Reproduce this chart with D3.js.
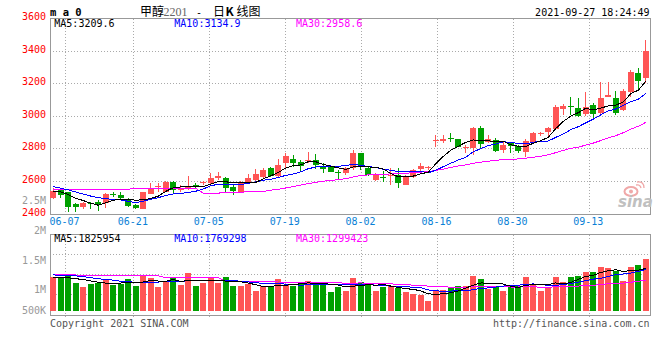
<!DOCTYPE html>
<html><head><meta charset="utf-8">
<script src="https://cdn.jsdelivr.net/npm/d3@7"></script>
<style>body{margin:0;background:#fff}svg{display:block}</style>
</head><body>
<svg id="c" width="660" height="360"></svg>
<script>
// ---------------- data ----------------
const dates = ["06-03","06-04","06-07","06-08","06-09","06-10","06-11","06-15","06-16","06-17","06-18","06-21","06-22","06-23","06-24","06-25","06-28","06-29","06-30",
"07-01","07-02","07-05","07-06","07-07","07-08","07-09","07-12","07-13","07-14","07-15","07-16","07-19","07-20","07-21","07-22","07-23","07-26","07-27","07-28","07-29","07-30",
"08-02","08-03","08-04","08-05","08-06","08-09","08-10","08-11","08-12","08-13","08-16","08-17","08-18","08-19","08-20","08-23","08-24","08-25","08-26","08-27","08-30","08-31",
"09-01","09-02","09-03","09-06","09-07","09-08","09-09","09-10","09-13","09-14","09-15","09-16","09-17","09-22","09-23","09-24","09-27"];
const open = [2501,2548,2534,2462,2446,2466,2476,2466,2521,2517, 2491,2456,2433,2525,2564,2538,2599,2550,2562,2580, 2590,2593,2622,2624,2568,2534,2599,2609,2630,2685, 2634,2716,2740,2720,2730,2732,2695,2687,2658,2654, 2681,2773,2681,2607,2630,2638,2640,2578,2630,2675, 2688,2849,2851,2864,2861,2810,2805,2930,2844,2855, 2790,2834,2818,2783,2838,2891,2906,2920,3045,3063, 3049,3014,3069,3018,3120,3114,3039,3151,3268,3237];
const high = [2558,2552,2538,2470,2476,2476,2483,2528,2538,2532, 2501,2460,2538,2589,2593,2603,2601,2579,2634,2593, 2605,2650,2660,2628,2578,2603,2644,2675,2681,2691, 2736,2773,2763,2732,2783,2769,2711,2701,2671,2691, 2795,2777,2695,2652,2666,2681,2681,2640,2675,2711, 2695,2882,2885,2895,2862,2824,2932,2938,2885,2865, 2844,2840,2822,2858,2902,2906,2932,3069,3075,3120, 3110,3151,3084,3208,3208,3155,3165,3284,3294,3470];
const low = [2491,2497,2411,2411,2429,2429,2421,2435,2503,2493, 2446,2429,2429,2521,2538,2538,2521,2538,2548,2558, 2575,2583,2609,2527,2517,2527,2593,2605,2613,2630, 2626,2681,2691,2660,2711,2675,2650,2656,2615,2642, 2673,2670,2634,2603,2599,2578,2558,2578,2620,2660, 2671,2810,2834,2840,2810,2773,2763,2808,2838,2783, 2777,2777,2773,2752,2834,2879,2879,2916,3008,3008, 2998,3002,2991,3012,3116,3008,3032,3120,3161,3204];
const close = [2544,2517,2446,2440,2466,2462,2456,2521,2515,2501, 2452,2435,2532,2558,2570,2599,2548,2556,2572,2573, 2596,2624,2634,2562,2542,2599,2624,2644,2671,2636, 2701,2759,2716,2695,2734,2701,2675,2660,2650,2681, 2777,2695,2640,2647,2622,2642,2593,2635,2671,2693, 2690,2853,2859,2860,2814,2814,2926,2832,2860,2789, 2822,2820,2789,2848,2895,2896,2926,3059,3063,3059, 3002,3059,3014,3114,3130,3022,3157,3270,3219,3403];
const volume = [1466000,1430000,1580000,1210000,1040000,1150000,1180000,1370000,1110000,1150000,
1370000,1070000,1500000,1430000,1040000,1280000,1470000,1110000,1640000,1070000,
1210000,1430000,1210000,1470000,1070000,1070000,1140000,870000,1070000,1070000,
1370000,1110000,1070000,1180000,1280000,1220000,1180000,830000,1040000,850000,
1420000,1260000,1110000,850000,1040000,1070000,970000,830000,730000,690000,
440000,900000,900000,970000,1070000,1070000,1510000,1370000,930000,1070000,
870000,1040000,1070000,1470000,1150000,870000,1040000,1470000,1260000,1470000,
1510000,1680000,1680000,1890000,1850000,1710000,1300000,1890000,1970000,2210000];
// moving-average values at the left edge (their windows start before the chart)
const ma5Head = [2540,2535,2520,2497];
const ma10Head = [2568,2558,2548,2535,2522,2510,2500,2494,2490];
const ma30Head = [2552,2552,2552,2552,2552,2552,2552,2552,2552,2552,2552, 2557,2557,2557,2557,2557,2557,2557,2557,2557, 2528,2528,2528,2533,2533,2533,2538,2538,2538];
const volMa5Head = [1450000,1440000,1420000,1380000];
const volMa10Head = [1540000,1530000,1520000,1500000,1470000,1420000,1380000,1350000,1320000];
const volMa30Head = [1540000,1540000,1540000,1540000, 1500000,1500000,1500000,1500000,1500000,1500000,1500000,1500000,1500000,1500000,1500000, 1420000,1420000,1420000,1420000,1420000,1420000,1420000,1420000, 1280000,1280000,1280000,1280000,1280000,1280000];
const priceTicks = [2400,2600,2800,3000,3200,3400,3600];
const volTicks = [500000,1000000,1500000,2000000,2500000];
const volTickLabels = ["500K","1M","1.5M","2M","2.5M"];
const dateLabels = ["06-07","06-21","07-05","07-19","08-02","08-16","08-30","09-13"];
const priceLegend = ["MA5:3209.6","MA10:3134.9","MA30:2958.6"];
const volLegend = ["MA5:1825954","MA10:1769298","MA30:1299423"];

// ---------------- layout ----------------
const L=50,R=650,T1=18.5,B1=214,T2=234.5,B2=315,VB=311;
const UP='#ff5555', DN='#00a000', GRID='#aaa', FRAME='#999';
const MONO='"DejaVu Sans Mono", "Liberation Mono", monospace';
const maColors=['#000','#0000ff','#ff00ff'];
const n=dates.length;
const svg=d3.select('#c');

const x=d3.scaleBand().domain(d3.range(n)).range([49.5,649.5]).paddingInner(0.2).paddingOuter(0.1);
const bw=x.bandwidth();
const cx=i=>x(i)+bw/2;
const gx=d3.scaleLinear().domain([0,n-1]).range([50.3,650]);
const y=d3.scaleLinear().domain([2400,3600]).range([B1,T1]);
const yv=d3.scaleLinear().domain([0,3000000]).range([VB,VB-70.2]);
const yvLab=d3.scaleLinear().domain([1000000,2000000]).range([293.3,233.8]);

function movingAvg(vals,k,head){return vals.map((v,i)=>i<k-1?head[i]:d3.mean(vals.slice(i-k+1,i+1)));}
const priceMA=[movingAvg(close,5,ma5Head),movingAvg(close,10,ma10Head),movingAvg(close,30,ma30Head)];
const volMA=[movingAvg(volume,5,volMa5Head),movingAvg(volume,10,volMa10Head),movingAvg(volume,30,volMa30Head)];

// ---------------- grid ----------------
const g=svg.append('g').attr('stroke',GRID).attr('stroke-dasharray','1,2').attr('shape-rendering','crispEdges');
dateLabels.forEach(d=>{
  const xx=gx(dates.indexOf(d));
  g.append('line').attr('x1',xx).attr('x2',xx).attr('y1',T1).attr('y2',B1);
  g.append('line').attr('x1',xx).attr('x2',xx).attr('y1',T2).attr('y2',B2+4);
});
priceTicks.filter(t=>t>2400&&t<3600).forEach(t=>{
  g.append('line').attr('x1',L).attr('x2',R).attr('y1',y(t)).attr('y2',y(t));
});
[1,2,3].forEach(k=>{
  const yy=T2+(B2-T2)*k/4;
  g.append('line').attr('x1',L).attr('x2',R).attr('y1',yy).attr('y2',yy);
});

// frames
svg.append('rect').attr('x',L).attr('y',T1).attr('width',R-L).attr('height',B1-T1)
  .attr('fill','none').attr('stroke',FRAME).attr('shape-rendering','crispEdges');
svg.append('rect').attr('x',L).attr('y',T2).attr('width',R-L).attr('height',B2-T2)
  .attr('fill','none').attr('stroke',FRAME).attr('shape-rendering','crispEdges');

// ---------------- candles ----------------
const cg=svg.append('g').attr('shape-rendering','crispEdges');
d3.range(n).forEach(i=>{
  const col=close[i]>=open[i]?UP:DN;
  cg.append('line').attr('x1',cx(i)).attr('x2',cx(i)).attr('y1',y(high[i])).attr('y2',y(low[i])).attr('stroke',col);
  const top=y(Math.max(open[i],close[i])), bot=y(Math.min(open[i],close[i]));
  cg.append('rect').attr('x',x(i)).attr('y',top).attr('width',bw).attr('height',Math.max(1,bot-top)).attr('fill',col);
});
// volume bars
d3.range(n).forEach(i=>{
  const col=close[i]>=open[i]?UP:DN;
  cg.append('rect').attr('x',x(i)).attr('y',yv(volume[i])).attr('width',bw).attr('height',yv(0)-yv(volume[i])).attr('fill',col);
});

// ---------------- MA lines ----------------
const lp=d3.line().x((d,i)=>cx(i)).y(d=>y(d));
const lv=d3.line().x((d,i)=>cx(i)).y(d=>yv(d));
[2,1,0].forEach(k=>{
  svg.append('path').attr('d',lp(priceMA[k])).attr('fill','none').attr('stroke',maColors[k]).attr('stroke-width',1).attr('shape-rendering','crispEdges');
  svg.append('path').attr('d',lv(volMA[k])).attr('fill','none').attr('stroke',maColors[k]).attr('stroke-width',1).attr('shape-rendering','crispEdges');
});

// ---------------- texts ----------------
const txt=(s,xx,yy,o={})=>svg.append('text').text(s).attr('x',xx).attr('y',yy)
  .attr('font-family',o.f||MONO).attr('font-size',o.s||10).attr('fill',o.c||'#000')
  .attr('text-anchor',o.a||'start').attr('font-weight',o.w||'normal').attr('font-style',o.st||'normal');

priceTicks.forEach(t=>txt(String(t),46,y(t)+1.6,{a:'end',c:'#ff0000'}));
volTicks.forEach((t,k)=>txt(volTickLabels[k],46,Math.min(yvLab(t),314.3),{a:'end',c:'#999'}));
dateLabels.forEach(d=>txt(d,gx(dates.indexOf(d))-16,225,{c:'#0a7fd6'}));

const legX=[54.3,174.3,296];
priceLegend.forEach((s,k)=>txt(s,legX[k],26.5,{c:maColors[k]}));
volLegend.forEach((s,k)=>txt(s,legX[k],241.7,{c:maColors[k]}));

txt('m a 0',50,15.7,{w:'bold',s:10.5});
const CJK='"Noto Sans CJK SC", sans-serif';
txt('甲醇',140,15.6,{f:CJK,s:12});
txt('2201',163.5,15.6,{f:'"Liberation Serif", serif',s:12,c:'#666'});
txt('-',196,15.6,{f:MONO,s:10});
txt('日',213,15.6,{f:CJK,s:12});
txt('K',225.5,15.6,{f:CJK,s:12,w:'bold'});
txt('线图',236.5,15.6,{f:CJK,s:12});
txt('2021-09-27 18:24:49',649.5,15.7,{a:'end'});

txt('Copyright 2021 SINA.COM',50,327,{c:'#555'});
txt('http://finance.sina.com.cn',649.5,327,{a:'end',c:'#555'});

// sina watermark
const wm=svg.append('g');
wm.append('ellipse').attr('cx',631).attr('cy',191.5).attr('rx',6.5).attr('ry',4.5).attr('fill','none').attr('stroke','#f0a8a8').attr('stroke-width',2);
wm.append('circle').attr('cx',631).attr('cy',191.5).attr('r',2).attr('fill','#f0a8a8');
wm.append('path').attr('d','M636,185 q4,-1 5,3 M637,182 q7,-1 7,6').attr('fill','none').attr('stroke','#f0a8a8').attr('stroke-width',1.3);
txt('sina',618,207,{f:'"DejaVu Sans", sans-serif',s:15,w:'bold',st:'italic',c:'#c0c0c0'});
</script>
</body></html>
